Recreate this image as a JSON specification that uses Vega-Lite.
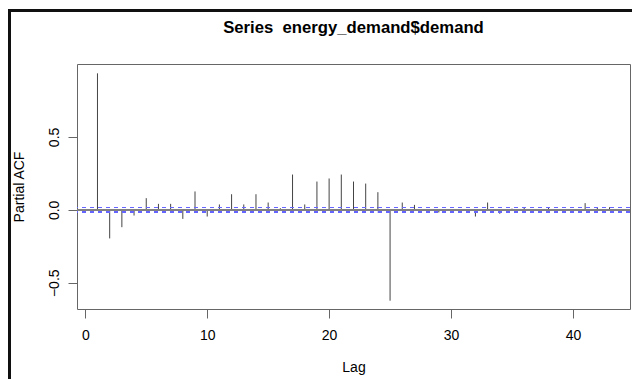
{
  "$schema": "https://vega.github.io/schema/vega-lite/v6.json",
  "width": 553,
  "height": 245,
  "autosize": "none",
  "padding": {"left": 77, "top": 64, "right": 2, "bottom": 70},
  "background": "white",
  "title": {
    "text": "Series\u00a0\u00a0energy_demand$demand",
    "font": "Liberation Sans",
    "fontSize": 16.7,
    "fontWeight": "bold",
    "color": "black",
    "anchor": "middle",
    "baseline": "alphabetic",
    "offset": -40
  },
  "config": {
    "view": {"stroke": "#666666", "strokeWidth": 1},
    "axis": {
      "grid": false,
      "domain": false,
      "tickColor": "#666666",
      "tickSize": 9,
      "labelFont": "Liberation Sans",
      "labelFontSize": 14,
      "labelColor": "black",
      "titleFont": "Liberation Sans",
      "titleFontSize": 14,
      "titleFontWeight": "normal",
      "titleColor": "black"
    }
  },
  "data": {
    "values": [
      {"lag": 1, "pacf": 0.936},
      {"lag": 2, "pacf": -0.196},
      {"lag": 3, "pacf": -0.119},
      {"lag": 4, "pacf": -0.039},
      {"lag": 5, "pacf": 0.080},
      {"lag": 6, "pacf": 0.041},
      {"lag": 7, "pacf": 0.041},
      {"lag": 8, "pacf": -0.062},
      {"lag": 9, "pacf": 0.126},
      {"lag": 10, "pacf": -0.046},
      {"lag": 11, "pacf": 0.037},
      {"lag": 12, "pacf": 0.107},
      {"lag": 13, "pacf": 0.037},
      {"lag": 14, "pacf": 0.107},
      {"lag": 15, "pacf": 0.050},
      {"lag": 16, "pacf": 0.011},
      {"lag": 17, "pacf": 0.242},
      {"lag": 18, "pacf": 0.037},
      {"lag": 19, "pacf": 0.194},
      {"lag": 20, "pacf": 0.215},
      {"lag": 21, "pacf": 0.242},
      {"lag": 22, "pacf": 0.194},
      {"lag": 23, "pacf": 0.180},
      {"lag": 24, "pacf": 0.121},
      {"lag": 25, "pacf": -0.623},
      {"lag": 26, "pacf": 0.050},
      {"lag": 27, "pacf": 0.034},
      {"lag": 28, "pacf": 0.004},
      {"lag": 29, "pacf": -0.018},
      {"lag": 30, "pacf": 0.005},
      {"lag": 31, "pacf": -0.004},
      {"lag": 32, "pacf": -0.046},
      {"lag": 33, "pacf": 0.050},
      {"lag": 34, "pacf": -0.027},
      {"lag": 35, "pacf": 0.008},
      {"lag": 36, "pacf": 0.018},
      {"lag": 37, "pacf": -0.003},
      {"lag": 38, "pacf": 0.014},
      {"lag": 39, "pacf": 0.005},
      {"lag": 40, "pacf": -0.016},
      {"lag": 41, "pacf": 0.046},
      {"lag": 42, "pacf": 0.018},
      {"lag": 43, "pacf": 0.018}
    ]
  },
  "layer": [
    {
      "mark": {"type": "rule", "color": "#444444", "strokeWidth": 1},
      "encoding": {
        "x": {
          "field": "lag",
          "type": "quantitative",
          "scale": {"domain": [-0.68, 44.68], "nice": false, "zero": false},
          "axis": {"values": [0, 10, 20, 30, 40], "title": "Lag", "labelPadding": 10, "titlePadding": 18}
        },
        "y": {
          "field": "pacf",
          "type": "quantitative",
          "scale": {"domain": [-0.68, 1.0], "nice": false, "zero": false},
          "axis": {
            "values": [-0.5, 0, 0.5],
            "format": ".1f",
            "title": "Partial ACF",
            "labelAngle": -90,
            "labelAlign": "center",
            "labelBaseline": "bottom",
            "labelPadding": 7,
            "titlePadding": 21
          }
        },
        "y2": {"datum": 0}
      }
    },
    {
      "mark": {"type": "rule", "color": "#808080", "strokeWidth": 1},
      "encoding": {
        "y": {"datum": 0, "type": "quantitative", "scale": {"domain": [-0.68, 1.0], "nice": false, "zero": false}}
      }
    },
    {
      "mark": {"type": "rule", "color": "#6666ff", "strokeWidth": 1, "strokeDash": [4, 4]},
      "encoding": {
        "y": {"datum": 0.016, "type": "quantitative", "scale": {"domain": [-0.68, 1.0], "nice": false, "zero": false}}
      }
    },
    {
      "mark": {"type": "rule", "color": "#6666ff", "strokeWidth": 1, "strokeDash": [4, 4]},
      "encoding": {
        "y": {"datum": -0.016, "type": "quantitative", "scale": {"domain": [-0.68, 1.0], "nice": false, "zero": false}}
      }
    },
    {
      "mark": {"type": "rect", "fill": null, "fillOpacity": 0, "stroke": "#111111", "strokeWidth": 2, "clip": false},
      "encoding": {
        "x": {"datum": -6.217, "type": "quantitative", "scale": {"domain": [-0.68, 44.68], "nice": false, "zero": false}},
        "x2": {"datum": 46},
        "y": {"datum": 1.367, "type": "quantitative", "scale": {"domain": [-0.68, 1.0], "nice": false, "zero": false}},
        "y2": {"datum": -1.3}
      }
    }
  ]
}
